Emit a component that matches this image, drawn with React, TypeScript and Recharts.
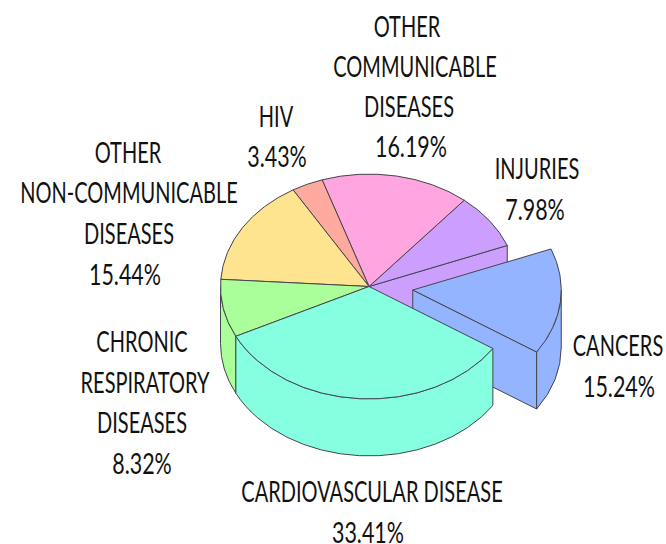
import React from "react";
import { PieChart, Pie } from "recharts";

const NAMES = ["INJURIES", "OTHER COMMUNICABLE DISEASES", "HIV", "OTHER NON-COMMUNICABLE DISEASES", "CHRONIC RESPIRATORY DISEASES", "CARDIOVASCULAR DISEASE", "CANCERS"];
const VALUES = [7.98, 16.19, 3.43, 15.44, 8.32, 33.41, 15.24];
const COLORS = ["#CC9FFF", "#FFA6E0", "#FFAA9F", "#FFE490", "#AAFF9A", "#85FFE0", "#94B4FF"];
const LABEL_LINES = [
  ["INJURIES", "7.98%"],
  ["OTHER", "COMMUNICABLE", "DISEASES", "16.19%"],
  ["HIV", "3.43%"],
  ["OTHER", "NON-COMMUNICABLE", "DISEASES", "15.44%"],
  ["CHRONIC", "RESPIRATORY", "DISEASES", "8.32%"],
  ["CARDIOVASCULAR DISEASE", "33.41%"],
  ["CANCERS", "15.24%"],
];
const LABEL_X = [
  [537, 535],
  [407, 415, 409, 411],
  [276, 277],
  [128, 129, 129, 125],
  [142, 145, 142, 142],
  [372, 368],
  [618, 619],
];
const LABEL_Y = [
  [179, 220],
  [37, 77, 117, 157],
  [127, 167],
  [163, 203, 244, 285],
  [352, 393, 433, 474],
  [502, 543],
  [356, 397],
];

const data = NAMES.map((name, i) => ({ name, value: VALUES[i], fill: COLORS[i] }));
const TILT = 0.757;
const DEPTH = 57;
const EXPLODE = 44;
const EXPLODED_NAME = "CANCERS";
const FRONT_NAME = "CARDIOVASCULAR DISEASE";
const NEIGHBOUR_NAME = "INJURIES";
const STROKE = "#45454d";

function Slice3D(props: any) {
  const { cx, cy, outerRadius: r, startAngle, endAngle, fill } = props;
  const name = props.name ?? props.payload?.name;
  const rad = Math.PI / 180;
  const ry = r * TILT;
  const exploded = name === EXPLODED_NAME;
  const mid = ((startAngle + endAngle) / 2) * rad;
  const ox = cx + (exploded ? EXPLODE * Math.cos(mid) : 0);
  const oy = cy - (exploded ? EXPLODE * TILT * Math.sin(mid) : 0);
  const pt = (a: number, d = 0) => {
    const x = ox + r * Math.cos(a * rad);
    const y = oy - ry * Math.sin(a * rad) + d;
    return `${x.toFixed(2)} ${y.toFixed(2)}`;
  };
  const top = `M${ox} ${oy} L${pt(startAngle)} A${r} ${ry} 0 ${endAngle - startAngle > 180 ? 1 : 0} 0 ${pt(endAngle)} Z`;

  const parts: React.ReactNode[] = [];
  const common = { fill, stroke: STROKE, strokeWidth: 1, strokeLinejoin: "round" as const };

  if (exploded || name === NEIGHBOUR_NAME) {
    parts.push(
      <path key="cut" {...common} d={`M${ox} ${oy} L${pt(startAngle)} L${pt(startAngle, DEPTH)} L${ox} ${oy + DEPTH} Z`} />
    );
  }
  // outer wall: only the part of the rim in the front half, for any winding of the angles
  for (const shift of [-360, 0, 360]) {
    const a = Math.max(startAngle, 180 + shift);
    const b = Math.min(endAngle, 360 + shift);
    if (b > a) {
      parts.push(
        <path key={`wall${shift}`} {...common} d={`M${pt(a)} A${r} ${ry} 0 0 0 ${pt(b)} L${pt(b, DEPTH)} A${r} ${ry} 0 0 1 ${pt(a, DEPTH)} Z`} />
      );
    }
  }
  parts.push(<path key="top" {...common} d={top} />);
  return <g>{parts}</g>;
}

function BackShape(props: any) {
  const name = props.name ?? props.payload?.name;
  return name === FRONT_NAME ? <g /> : <Slice3D {...props} />;
}
function FrontShape(props: any) {
  const name = props.name ?? props.payload?.name;
  return name === FRONT_NAME ? <Slice3D {...props} /> : <g />;
}

const SCALE_TEXT = 0.69;
const SCALE_PERCENT = 0.74;
function renderLabel(props: any) {
  const i = props.index;
  return (
    <g key={i}>
      {LABEL_LINES[i].map((line, j) => (
        <text
          key={j}
          transform={`translate(${LABEL_X[i][j]} ${LABEL_Y[i][j]}) scale(${line.endsWith("%") ? SCALE_PERCENT : SCALE_TEXT} 1)`}
          textAnchor="middle"
          fontFamily="Lato"
          fontSize={29}
          fill="#111111"
        >
          {line}
        </text>
      ))}
    </g>
  );
}

const START = 21.4;
export default function App() {
  return (
    <div style={{ position: "absolute", left: 0, top: 0, width: 666, height: 544, background: "#fff", overflow: "hidden" }}>
      <PieChart width={666} height={544} margin={{ top: 0, right: 0, bottom: 0, left: 0 }}>
        <Pie
          data={data}
          dataKey="value"
          nameKey="name"
          cx={369}
          cy={286.5}
          innerRadius={0}
          outerRadius={148.5}
          startAngle={START}
          endAngle={START + 360}
          isAnimationActive={false}
          shape={BackShape}
          inactiveShape={BackShape}
          activeShape={BackShape}
          label={renderLabel}
          labelLine={false}
        />
        <Pie
          data={data}
          dataKey="value"
          nameKey="name"
          cx={369}
          cy={286.5}
          innerRadius={0}
          outerRadius={148.5}
          startAngle={START}
          endAngle={START + 360}
          isAnimationActive={false}
          shape={FrontShape}
          inactiveShape={FrontShape}
          activeShape={FrontShape}
          label={false}
          labelLine={false}
        />
      </PieChart>
    </div>
  );
}
